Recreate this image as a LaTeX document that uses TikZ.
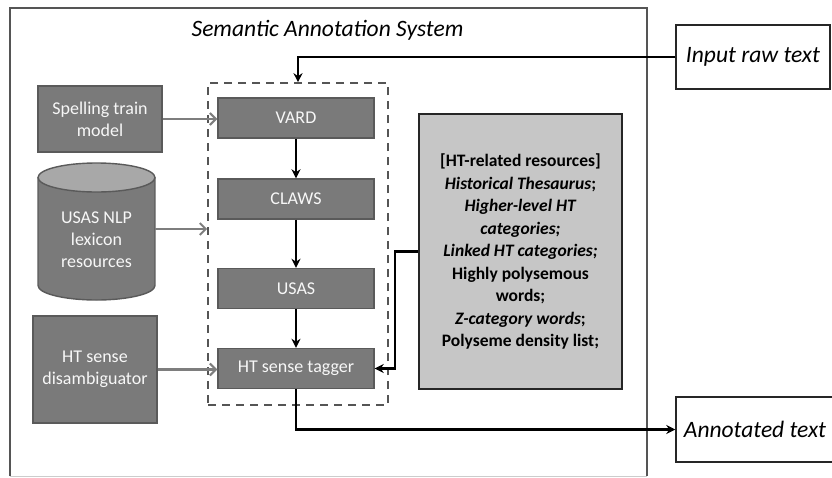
\documentclass[tikz,border=0pt]{standalone}
\usepackage{fontspec}
\setmainfont{Carlito}
\usetikzlibrary{arrows.meta}
\definecolor{boxfill}{HTML}{7A7A7A}
\definecolor{boxline}{HTML}{5A5A5A}
\definecolor{boxtext}{HTML}{F7F7F7}
\definecolor{resfill}{HTML}{C6C6C6}
\definecolor{cyltop}{HTML}{A8A8A8}
\definecolor{grayarrow}{HTML}{7E7E7E}
\definecolor{frame}{HTML}{555555}
\tikzset{
  darkbox/.style={draw=boxline, fill=boxfill, line width=1.4pt, text=boxtext,
    font=\fontsize{18}{22}\selectfont, align=center, inner sep=0pt},
  whitebox/.style={draw=black!85, line width=1.5pt, fill=white,
    font=\fontsize{23.5}{28}\selectfont\itshape, inner sep=0pt},
  resbox/.style={draw=black!85, fill=resfill, line width=1.6pt,
    font=\fontsize{17.5}{22.5}\selectfont\bfseries, align=center, inner sep=0pt},
  dashbox/.style={draw=frame, dash pattern=on 8pt off 6pt, line width=1.6pt, inner sep=0pt},
  blk/.style={draw=black, line width=2.3pt, -{Stealth[length=9pt,width=9pt]}},
  gry/.style={draw=grayarrow, line width=2.2pt, -{Straight Barb[length=6pt,width=12pt,line width=2pt]}},
}
\begin{document}
\begin{tikzpicture}[x=1pt,y=-1pt]
\useasboundingbox (0,0) rectangle (832,477);
% system frame
\node[minimum width=637pt, minimum height=468pt, inner sep=0pt] (sys) at (328.5,242) {};
\draw[frame, line width=1.6pt] (sys.south west) -- (sys.north west) -- (sys.north east) -- (sys.south east);
\draw[black!20, line width=1.2pt] (sys.south west) -- (sys.south east);
\node[font=\fontsize{23.5}{28}\selectfont\itshape, anchor=base] (title) at (327.5,36) {Semantic Annotation System};

% dashed pipeline box
\node[dashbox, minimum width=180pt, minimum height=322pt] (dash) at (298,244) {};

% pipeline
\node[darkbox, minimum width=156pt, minimum height=40pt] (vard) at (296,118) {VARD};
\node[darkbox, minimum width=156pt, minimum height=40pt] (claws) at (296,199) {CLAWS};
\node[darkbox, minimum width=156pt, minimum height=40pt] (usas) at (296,288.5) {USAS};
\node[darkbox, minimum width=156pt, minimum height=40pt] (tag) at (296,368.5) {HT sense tagger};

% left inputs
\node[darkbox, minimum width=124pt, minimum height=66pt] (spell) at (100,119) {Spelling train\\model};
\node[darkbox, minimum width=124pt, minimum height=107pt] (dis) at (95,369.5) {HT sense\\disambiguator};

% cylinder
\fill[boxfill] (38,177.5) rectangle (155,285.5);
\fill[boxfill] (96.5,285.5) ellipse [x radius=58.5, y radius=14.5];
\draw[boxline, line width=1.4pt] (38,177.5) -- (38,285.5) arc[start angle=180, end angle=0, x radius=58.5, y radius=14.5] -- (155,177.5);
\filldraw[fill=cyltop, draw=boxline, line width=1.4pt] (96.5,177.5) ellipse [x radius=58.5, y radius=14.5];
\node[text=boxtext, font=\fontsize{18}{22}\selectfont, align=center] (cyl) at (96.5,239.5) {USAS NLP\\lexicon\\resources};
\coordinate (cylE) at (155,229);

% resources
\node[resbox, minimum width=203pt, minimum height=275pt] (res) at (520.5,251.5)
 {[HT-related resources]\\
  \textit{Historical Thesaurus};\\
  \textit{Higher-level HT}\\
  \textit{categories;}\\
  \textit{Linked HT categories;}\\
  Highly polysemous\\
  words;\\
  \textit{Z-category words};\\
  Polyseme density list;};

% external boxes
\node[whitebox, minimum width=154pt, minimum height=64pt] (inp) at (753,57) {Input raw text};
\node[whitebox, minimum width=158pt, minimum height=65pt] (ann) at (755,429.5) {Annotated text};

% connectors
\draw[blk] (inp.west) -| (dash.north);
\draw[blk] (vard) -- (claws);
\draw[blk] (claws) -- (usas);
\draw[blk] (usas) -- (tag);
\draw[blk] (res.west) -- ++(-23,0) |- (tag.east);
\draw[blk] (tag.south) |- (ann.west);
\draw[gry] (spell.east) -- (spell.east -| vard.west);
\draw[gry] (cylE) -- (cylE -| dash.west);
\draw[gry] (dis.east) -- (dis.east -| tag.west);
\end{tikzpicture}
\end{document}
